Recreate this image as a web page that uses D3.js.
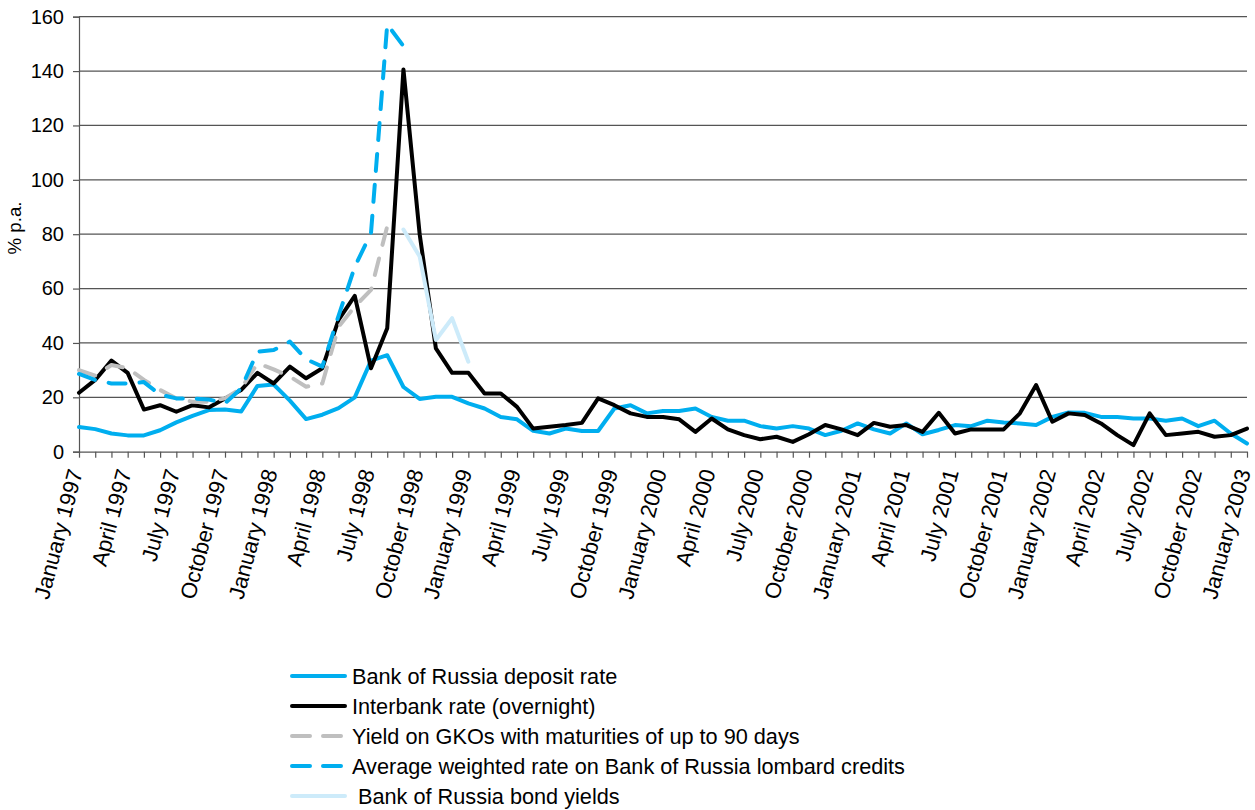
<!DOCTYPE html>
<html><head><meta charset="utf-8">
<script src="https://cdn.jsdelivr.net/npm/d3@7"></script>
<style>
body{margin:0;background:#fff;}
text{font-family:"Liberation Sans",Arial,Helvetica,sans-serif;fill:#000;}
text.ytitle{font-size:19px !important;}
</style>
</head><body>
<svg id="c" width="1255" height="810"></svg>
<script>
// ---- data ----
const monthNames = ["January","February","March","April","May","June","July","August","September","October","November","December"];
const years = [1997,1998,1999,2000,2001,2002,2003];
const categories = [];
years.forEach(y => monthNames.forEach(m => { if (y < 2003 || m === "January") categories.push(m + " " + y); }));
const tickLabels = categories.filter((c, i) => i % 3 === 0);

const depositRate = [9.1,8.3,6.7,6.0,6.0,7.9,10.8,13.2,15.3,15.5,14.8,24.2,24.7,18.8,12.0,13.6,16.0,20.0,33.5,35.5,
  23.8,19.4,20.2,20.2,17.8,15.9,12.8,11.9,7.7,6.7,8.5,7.6,7.6,15.9,17.1,14.1,15.0,15.0,15.9,12.8,
  11.4,11.4,9.4,8.5,9.4,8.5,6.1,7.7,10.4,8.2,6.7,10.4,6.4,8.0,9.8,9.4,11.4,10.7,10.4,9.8,
  12.8,14.4,14.3,12.8,12.8,12.2,12.2,11.4,12.2,9.4,11.4,6.7,3.0];
const interbankRate = [21.7,26.4,33.5,29.0,15.5,17.1,14.7,17.1,16.3,19.6,22.7,29.0,25.1,31.3,27.0,30.7,48.5,57.3,30.7,45.4,
  140.6,80.0,38.0,29.0,29.0,21.4,21.4,16.5,8.5,9.2,9.8,10.6,19.6,17.1,14.1,12.8,12.8,11.9,7.3,12.2,
  8.2,6.1,4.6,5.5,3.6,6.4,9.8,8.2,6.1,10.6,9.2,9.8,7.3,14.3,6.7,8.2,8.2,8.2,14.1,24.5,
  11.0,14.1,13.5,10.4,6.1,2.4,14.1,6.1,6.7,7.3,5.5,6.1,8.5];
// January 1997 - August 1998
const gkoYield = [30.0,28.0,31.9,30.7,26.4,22.7,19.6,18.4,18.4,19.6,23.3,32.5,30.3,27.6,23.9,25.1,46.0,53.4,59.5,82.9];
// January 1997 - September 1998
const lombardRate = [28.6,26.4,25.1,25.1,25.6,21.0,19.6,19.6,19.2,17.8,23.3,36.8,37.4,40.5,34.0,31.3,50.0,68.0,80.4,157.2,149.2];
// September 1998 - January 1999
const bondMonths = ["September 1998","October 1998","November 1998","December 1998","January 1999"];
const bondYield = [81.7,71.8,41.1,49.1,33.1];

const seriesNames = ["Bank of Russia deposit rate","Interbank rate (overnight)","Yield on GKOs with maturities of up to 90 days","Average weighted rate on Bank of Russia lombard credits"," Bank of Russia bond yields"];
const yTicks = [0,20,40,60,80,100,120,140,160];

// ---- chart ----
const svg = d3.select("#c");
const x = d3.scalePoint().domain(categories).range([79, 1247]);
const y = d3.scaleLinear().domain([0,160]).range([451.7, 16.7]);

// gridlines
svg.append("g").selectAll("line").data(yTicks.filter(t => t > 0)).join("line")
  .attr("x1", 79).attr("x2", 1247).attr("y1", d => y(d)).attr("y2", d => y(d))
  .attr("stroke", "#555").attr("stroke-width", 1.2);

// y axis
const ya = svg.append("g").attr("transform", "translate(79,0)")
  .call(d3.axisLeft(y).tickValues(yTicks).tickSize(6).tickPadding(9).tickFormat(d3.format("d")));
ya.attr("font-size", null).attr("font-family", null);
ya.select(".domain").attr("stroke", "#555").attr("stroke-width", 1.2);
ya.selectAll(".tick line").attr("stroke", "#555").attr("stroke-width", 1.2);
ya.selectAll("text").style("font-size", "20px").attr("fill", "#000");

// x axis
const xa = svg.append("g").attr("transform", `translate(0,${y(0)})`)
  .call(d3.axisBottom(x).tickSize(6).tickSizeOuter(0).tickFormat(d => tickLabels.includes(d) ? d : ""));
xa.attr("font-size", null).attr("font-family", null);
xa.select(".domain").attr("stroke", "#555").attr("stroke-width", 1.2);
xa.selectAll(".tick line").attr("stroke", "#555").attr("stroke-width", 1.2);
xa.selectAll(".tick text")
  .style("font-size", "22px").attr("fill", "#000")
  .attr("text-anchor", "end")
  .attr("transform", "translate(-4,18) rotate(-75)")
  .attr("x", 0).attr("y", 0).attr("dy", "0.35em");

// y title
svg.append("g").attr("transform", "translate(21,228)")
  .append("text").attr("class", "ytitle").attr("transform", "rotate(-90)")
  .attr("x", -26.5).attr("font-size", "19")
  .attr("textLength", 53).attr("lengthAdjust", "spacingAndGlyphs")
  .text("% p.a.");

// lines
const line = d3.line().defined(d => d.v != null).x(d => x(d.c)).y(d => y(d.v));
const mk = (vals, cats) => vals.map((v, i) => ({c: cats[i], v}));

const series = [
  {data: mk(depositRate, categories), color: "#00AEEF", dash: null},
  {data: mk(interbankRate, categories), color: "#000000", dash: null},
  {data: mk(gkoYield, categories), color: "#BFBFBF", dash: "17,14"},
  {data: mk(lombardRate, categories), color: "#00AEEF", dash: "17,14"},
  {data: mk(bondYield, bondMonths), color: "#CDEBFA", dash: null}
];
series.forEach(s => {
  svg.append("path").datum(s.data).attr("d", line)
    .attr("fill", "none").attr("stroke", s.color).attr("stroke-width", 4)
    .attr("stroke-linejoin", "round").attr("stroke-linecap", "round")
    .attr("stroke-dasharray", s.dash);
});

// legend
const lg = svg.append("g");
series.forEach((s, i) => {
  const yy = 676 + i * 30;
  lg.append("line").attr("x1", 292).attr("x2", 345).attr("y1", yy).attr("y2", yy)
    .attr("stroke", s.color).attr("stroke-width", 4).attr("stroke-linecap", "round")
    .attr("stroke-dasharray", s.dash ? "18,13" : null);
  lg.append("text").attr("x", 352).attr("y", yy).attr("dy", "0.35em")
    .style("font-size", "21.7px").attr("xml:space", "preserve").style("white-space", "pre").text(seriesNames[i]);
});
</script>
</body></html>
